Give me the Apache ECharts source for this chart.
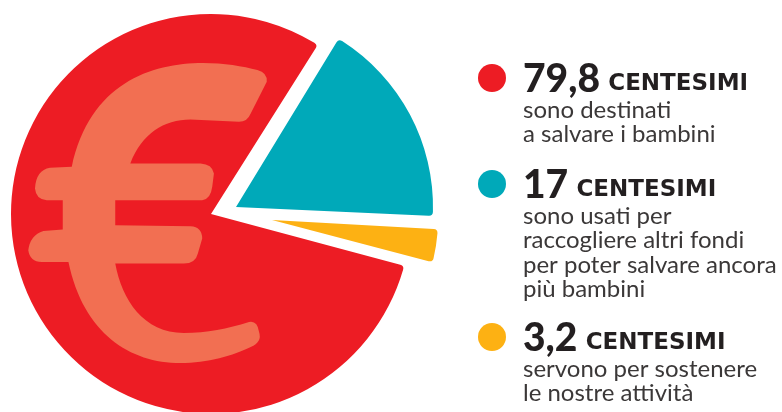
<!DOCTYPE html>
<html>
<head>
<meta charset="utf-8">
<style>html,body{margin:0;padding:0;background:#fff}#myChart{width:782px;height:412px}</style>
<script src="https://cdn.jsdelivr.net/npm/echarts@6/dist/echarts.min.js"></script>
</head>
<body>
<div id="myChart"></div>
<script>
var names = ['salvare i bambini', 'raccogliere fondi', 'attività'];
var values = [79.8, 17, 3.2];
var amountLabels = ['79,8', '17', '3,2'];
var unitLabel = 'CENTESIMI';
var notes = [
  ['sono destinati', 'a salvare i bambini'],
  ['sono usati per', 'raccogliere altri fondi', 'per poter salvare ancora', 'più bambini'],
  ['servono per sostenere', 'le nostre attività']
];
var colors = ['#ed1c24', '#00a9b9', '#fdb113'];

// ogni spicchio e' staccato dagli altri, quindi una serie per spicchio
var centers = [[211, 214], [236, 207], [272, 220]];
var radii = [200, 197, 166];
var startAngles = [-15, 58.6, -3.2];
var legendY = [78, 184, 337];

var euroPath = 'M770 210 C620 170 290 150 215 500 L150 503 Q108 510 105 565 Q108 598 140 600 L188 600 L188 688 L130 692 Q90 705 85 750 Q90 785 125 785 L205 785 C250 1000 390 1088 540 1088 C620 1088 700 1065 750 1040 Q785 1025 775 995 Q770 960 745 965 C680 985 620 998 550 998 C430 998 365 900 345 790 L550 790 Q585 790 592 760 L605 715 Q605 680 570 678 L345 675 L345 600 L605 600 Q630 598 635 560 L640 520 Q635 492 600 490 L390 490 C425 400 490 358 570 358 L715 365 Q740 365 750 340 L798 245 Q800 218 770 210 Z';

var myChart = echarts.init(document.getElementById('myChart'));

var series = values.map(function (v, i) {
  return {
    type: 'pie',
    animation: false,
    silent: true,
    center: centers[i],
    radius: [0, radii[i]],
    startAngle: startAngles[i],
    label: { show: false },
    labelLine: { show: false },
    itemStyle: { borderRadius: 4 },
    data: [
      { name: names[i], value: v, itemStyle: { color: colors[i] } },
      { name: 'resto', value: 100 - v, itemStyle: { color: 'transparent' } }
    ]
  };
});

// simbolo dell'euro sopra lo spicchio rosso
series.push({
  type: 'custom',
  coordinateSystem: 'none',
  animation: false,
  silent: true,
  z: 10,
  data: [[0]],
  renderItem: function () {
    return {
      type: 'path',
      shape: { pathData: euroPath, layout: 'cover', x: 28.3, y: 63, width: 238.5, height: 300 },
      style: { fill: '#f26f52' }
    };
  }
});

var graphic = [];

values.forEach(function (v, i) {
  // pallino della legenda
  graphic.push({
    type: 'circle',
    z: 10,
    shape: { cx: 492, cy: legendY[i], r: 14 },
    style: { fill: colors[i] }
  });
  // valore + CENTESIMI
  graphic.push({
    type: 'text',
    z: 10,
    x: 523,
    y: legendY[i] + 1,
    style: {
      text: '{a|' + amountLabels[i] + '}{s| }{b|' + unitLabel + '}',
      verticalAlign: 'middle',
      rich: {
        a: { fontFamily: 'Lato', fontWeight: 900, fontSize: 39, fill: '#231f20' },
        s: { fontFamily: 'Lato', fontSize: 32 },
        b: { fontFamily: 'DejaVu Sans', fontWeight: 'bold', fontSize: 23, fill: '#231f20', padding: [10, 0, 0, 0] }
      }
    }
  });
  // testo sotto
  notes[i].forEach(function (line, j) {
    graphic.push({
      type: 'text',
      z: 10,
      x: 523,
      y: legendY[i] + 32 + j * 24.4,
      style: {
        text: line,
        fontFamily: 'Lato',
        fontSize: 24,
        fill: '#3b3838',
        verticalAlign: 'middle'
      }
    });
  });
});

var option = {
  backgroundColor: '#fff',
  series: series,
  graphic: graphic
};
myChart.setOption(option);
</script>
</body>
</html>
